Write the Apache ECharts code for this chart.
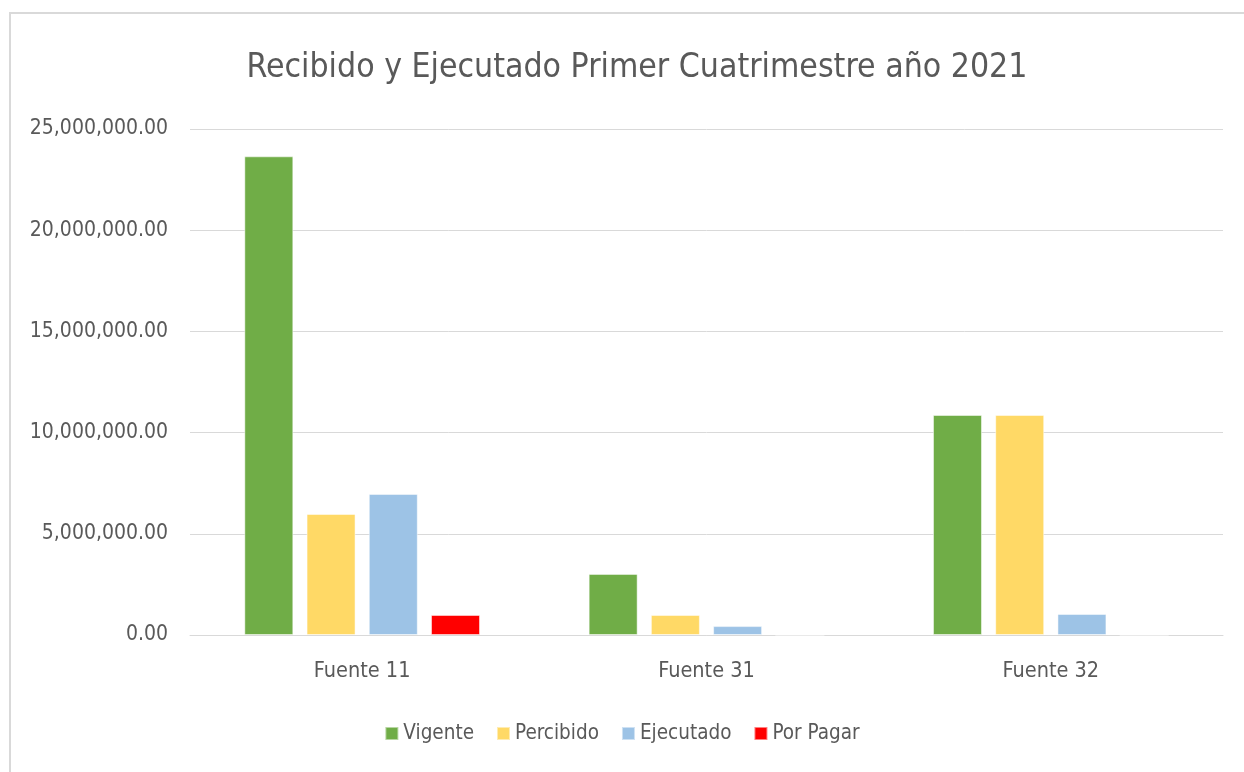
<!DOCTYPE html>
<html>
<head>
<meta charset="utf-8">
<script src="https://cdn.jsdelivr.net/npm/echarts@6/dist/echarts.min.js"></script>
<style>
html,body{margin:0;padding:0;background:#fff;}
#frame{position:absolute;left:9px;top:12px;width:1250px;height:780px;border:2px solid #d9d9d9;box-sizing:border-box;}
#chart{position:absolute;left:0;top:0;width:1244px;height:772px;}
</style>
</head>
<body>
<div id="frame"></div>
<div id="chart"></div>
<script>
const titleText = 'Recibido y Ejecutado Primer Cuatrimestre año 2021';
const categories = ['Fuente 11', 'Fuente 31', 'Fuente 32'];
const seriesNames = ['Vigente', 'Percibido', 'Ejecutado', 'Por Pagar'];
const vigente = [23650000, 3020000, 10870000];
const percibido = [5980000, 990000, 10870000];
const ejecutado = [6970000, 440000, 1040000];
const porPagar = [990000, 0, 0];
const colors = ['#70AD47', '#FFD966', '#9DC3E6', '#FF0000'];

const FONT = "'Liberation Sans Narrow', 'DejaVu Sans Condensed', 'Noto Sans', sans-serif";
const values = [vigente, percibido, ejecutado, porPagar];

const chart = echarts.init(document.getElementById('chart'), null, {renderer: 'canvas'});
chart.setOption({
  animation: false,
  title: {
    text: titleText,
    left: 632, top: 46, textAlign: 'center',
    textStyle: {fontFamily: FONT, fontSize: 33.5, fontWeight: 'normal', color: '#595959'}
  },
  legend: {
    data: seriesNames,
    bottom: 23, left: 'center',
    itemWidth: 13, itemHeight: 13, itemGap: 22,
    icon: 'rect',
    textStyle: {fontFamily: FONT, fontSize: 20.5, color: '#595959'}
  },
  grid: {left: 190, right: 21, top: 129, bottom: 137, containLabel: false},
  xAxis: {
    type: 'category', data: categories,
    axisLine: {lineStyle: {color: '#d9d9d9', width: 1}},
    axisTick: {show: false},
    axisLabel: {fontFamily: FONT, fontSize: 21.5, color: '#595959', margin: 25}
  },
  yAxis: {
    type: 'value', min: 0, max: 25000000, interval: 5000000,
    axisLine: {show: false}, axisTick: {show: false},
    splitLine: {lineStyle: {color: '#d9d9d9', width: 1}},
    axisLabel: {
      fontFamily: FONT, fontSize: 21, color: '#595959', margin: 22,
      formatter: v => v.toLocaleString('en-US', {minimumFractionDigits: 2, maximumFractionDigits: 2})
    }
  },
  series: seriesNames.map((n, i) => ({
    name: n, type: 'bar', data: values[i],
    barWidth: 49, barGap: '27%',
    itemStyle: {color: colors[i], borderColor: 'rgba(255,255,255,0.5)', borderWidth: 1}
  }))
});
</script>
</body>
</html>
